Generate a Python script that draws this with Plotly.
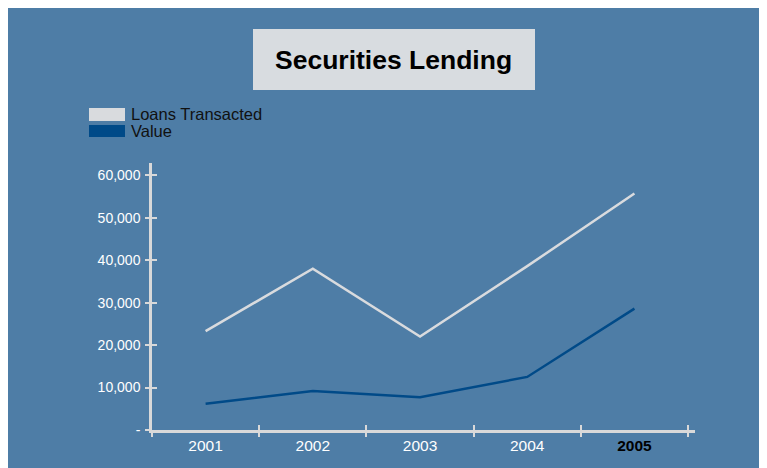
import plotly.graph_objects as go

# ---- data ----
years = ["2001", "2002", "2003", "2004", "2005"]
loans_transacted = [23300, 38000, 22000, 38600, 55700]
value = [6200, 9200, 7700, 12500, 28600]
y_tick_vals = [0, 10000, 20000, 30000, 40000, 50000, 60000]
y_tick_text = ["-", "10,000", "20,000", "30,000", "40,000", "50,000", "60,000"]
series_names = ["Loans Transacted", "Value"]
title_text = "Securities Lending"

# ---- style ----
BG = "#4E7DA6"
LIGHT = "#D9DBDE"
DARK = "#004A88"
AXIS = "#D9D9D9"
FONT = "Arial, Liberation Sans, sans-serif"

# plot area in figure px (figure is offset 8px by page body margin)
L, T, W, H = 144, 155, 543, 267
FW, FH = 759, 460
YMAX = 62900
XR = [-0.5, 4.565]


def px(x_page):
    return (x_page - 8 - L) / W


def py(y_page):
    return (T + H + 8 - y_page) / H


fig = go.Figure()
fig.add_trace(go.Scatter(x=years, y=loans_transacted, mode="lines",
                         line=dict(color=LIGHT, width=2.5), name=series_names[0],
                         showlegend=False))
fig.add_trace(go.Scatter(x=years, y=value, mode="lines",
                         line=dict(color=DARK, width=2.5), name=series_names[1],
                         showlegend=False))
# dummy trace to host overlay axes (inside ticks)
fig.add_trace(go.Scatter(x=[], y=[], xaxis="x2", yaxis="y2", showlegend=False,
                         hoverinfo="skip"))

x_ticktext = [y for y in years[:-1]] + [
    "<span style='color:#000000'><b>" + years[-1] + "</b></span>"]

fig.update_layout(
    width=FW, height=FH,
    margin=dict(l=L, r=FW - L - W, t=T, b=FH - T - H, pad=0),
    paper_bgcolor=BG, plot_bgcolor=BG,
    font=dict(family=FONT, color="white", size=14),
    xaxis=dict(type="category", range=XR, tickmode="array", tickvals=years,
               ticktext=x_ticktext, tickson="boundaries", ticks="outside",
               ticklen=4, tickwidth=2, tickcolor=AXIS, showline=True,
               linecolor=AXIS, linewidth=2.5, showgrid=False, zeroline=False,
               tickfont=dict(size=15.5, color="white")),
    yaxis=dict(range=[0, YMAX], tickmode="array", tickvals=y_tick_vals,
               ticktext=y_tick_text, ticks="outside", ticklen=4, tickwidth=2,
               tickcolor=AXIS, showline=True, linecolor=AXIS, linewidth=2.5,
               showgrid=False, zeroline=False, ticklabelstandoff=2,
               tickfont=dict(size=14, color="white")),
    xaxis2=dict(overlaying="x", anchor="y", range=XR, tickmode="array",
                tickvals=[-0.5, 0.5, 1.5, 2.5, 3.5, 4.5], ticks="inside",
                ticklen=5, tickwidth=2, tickcolor=AXIS, showticklabels=False,
                showline=False, showgrid=False, zeroline=False),
    yaxis2=dict(overlaying="y", anchor="x", side="left", range=[0, YMAX],
                tickmode="array", tickvals=y_tick_vals, ticks="inside",
                ticklen=5, tickwidth=2, tickcolor=AXIS, showticklabels=False,
                showline=False, showgrid=False, zeroline=False),
    showlegend=False,
)

# title box
fig.add_shape(type="rect", xref="paper", yref="paper",
              x0=px(253), x1=px(535), y0=py(90), y1=py(29),
              fillcolor="#D8DCE0", line=dict(width=0))
fig.add_annotation(xref="paper", yref="paper", x=px(393.5), y=py(59.7),
                   xanchor="center", yanchor="middle", showarrow=False,
                   text="<b>" + title_text + "</b>",
                   font=dict(family=FONT, size=26.5, color="#000000"))

# legend
legend_rows = [(108, 121, 114.5, LIGHT), (125, 137, 131.3, DARK)]
for name, (y0, y1, yc, col) in zip(series_names, legend_rows):
    fig.add_shape(type="rect", xref="paper", yref="paper",
                  x0=px(89), x1=px(125), y0=py(y1), y1=py(y0),
                  fillcolor=col, line=dict(width=0))
    fig.add_annotation(xref="paper", yref="paper", x=px(129), y=py(yc),
                       xanchor="left", yanchor="middle", showarrow=False,
                       text=name,
                       font=dict(family=FONT, size=16.5, color="#111111"))

fig.write_html("out.html")
